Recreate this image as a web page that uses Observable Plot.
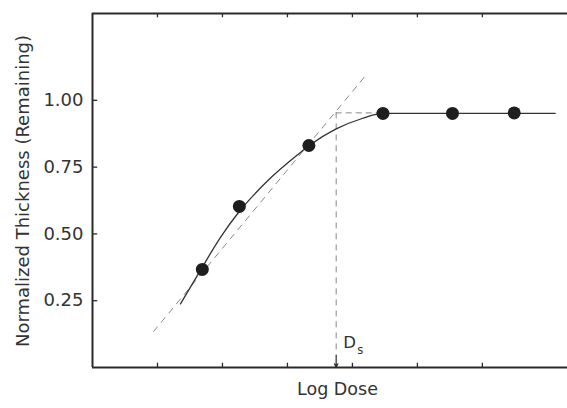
<!DOCTYPE html>
<html>
<head>
<meta charset="utf-8">
<script src="https://cdn.jsdelivr.net/npm/d3@7"></script>
<script src="https://cdn.jsdelivr.net/npm/@observablehq/plot@0.6"></script>
<style>
  html, body { margin: 0; padding: 0; background: #fff; }
  #chart svg { display: block; }
</style>
</head>
<body>
<div id="chart"></div>
<script>
// Measured points (log dose units, normalized thickness)
const doseX = [1.69, 2.26, 3.33, 4.47, 5.54, 6.49];
const thickY = [0.367, 0.603, 0.831, 0.951, 0.951, 0.953];

// Smooth fitted curve through the data
const curveX = [1.354, 1.688, 1.97, 2.25, 2.43, 2.7, 3.15, 3.33, 3.75, 4.15, 4.47, 5.5, 7.12];
const curveY = [0.238, 0.375, 0.487, 0.581, 0.632, 0.70, 0.795, 0.83, 0.893, 0.932, 0.951, 0.951, 0.951];

// Dashed tangent line
const tangentX = [0.94, 4.18];
const tangentY = [0.135, 1.086];

// Saturation dose Ds
const dsX = 3.75;
const dsY = 0.953;

const yTicks = [0.25, 0.5, 0.75, 1.0];
const xTicks = [1, 2, 3, 4, 5, 6];

const points = doseX.map((x, i) => ({x, y: thickY[i]}));
const curve = curveX.map((x, i) => ({x, y: curveY[i]}));
const tangent = tangentX.map((x, i) => ({x, y: tangentY[i]}));

const xMax = 7.31, yMax = 1.325;
const ink = "#2a2a2a";
const font = "DejaVu Sans, Verdana, sans-serif";

const chart = Plot.plot({
  width: 567,
  height: 408,
  marginLeft: 92,
  marginRight: 0,
  marginTop: 13,
  marginBottom: 41,
  style: {fontFamily: font, background: "#fff", color: ink},
  x: {domain: [0, xMax], axis: null},
  y: {domain: [0, yMax], axis: null},
  marks: [
    // frame
    Plot.ruleX([0], {stroke: ink, strokeWidth: 2}),
    Plot.ruleY([0, yMax], {stroke: ink, strokeWidth: 2}),
    // inward ticks
    Plot.ruleY(yTicks, {x1: 0, x2: 0.08, stroke: ink, strokeWidth: 1.3}),
    Plot.ruleX(xTicks, {y1: 0, y2: 0.016, stroke: ink, strokeWidth: 1.3}),
    Plot.ruleX(xTicks, {y1: yMax, y2: yMax - 0.016, stroke: ink, strokeWidth: 1.3}),
    // y tick labels
    Plot.text(yTicks, {x: 0, y: d => d, text: d => d.toFixed(2), textAnchor: "end", dx: -9,
      fontSize: 18, fill: "#333"}),
    // dashed construction lines
    Plot.line(tangent, {x: "x", y: "y", stroke: "#888", strokeWidth: 1, strokeDasharray: "6,6"}),
    Plot.ruleY([dsY], {x1: dsX, x2: doseX[3], stroke: "#888", strokeWidth: 1, strokeDasharray: "6,4"}),
    Plot.ruleX([dsX], {y1: dsY, y2: 0.04, stroke: "#888", strokeWidth: 1, strokeDasharray: "6,5"}),
    Plot.arrow([{x1: dsX, y1: 0.045, x2: dsX, y2: 0}], {x1: "x1", y1: "y1", x2: "x2", y2: "y2",
      stroke: ink, strokeWidth: 1.2, headLength: 9, headAngle: 50}),
    // fitted curve
    Plot.line(curve, {x: "x", y: "y", curve: "monotone-x", stroke: "#333", strokeWidth: 1.3}),
    // data points
    Plot.dot(points, {x: "x", y: "y", r: 6.5, fill: "#1e1e1e", stroke: "none"}),
    // Ds label
    Plot.text([dsX], {x: d => d, y: 0, text: () => "D", textAnchor: "start", dx: 7, dy: -25,
      fontSize: 16.5, fill: "#333"}),
    Plot.text([dsX], {x: d => d, y: 0, text: () => "s", textAnchor: "start", dx: 21, dy: -17,
      fontSize: 11.5, fill: "#333"}),
    // axis titles
    Plot.text(["Log Dose"], {x: 3.77, y: 0, text: d => d, dy: 22,
      fontSize: 17.5, fill: "#333"}),
    Plot.text(["Normalized Thickness (Remaining)"], {x: 0, y: 0.6605, text: d => d, rotate: -90,
      dx: -69, fontSize: 18, fill: "#333"})
  ]
});
document.getElementById("chart").append(chart);
</script>
</body>
</html>
